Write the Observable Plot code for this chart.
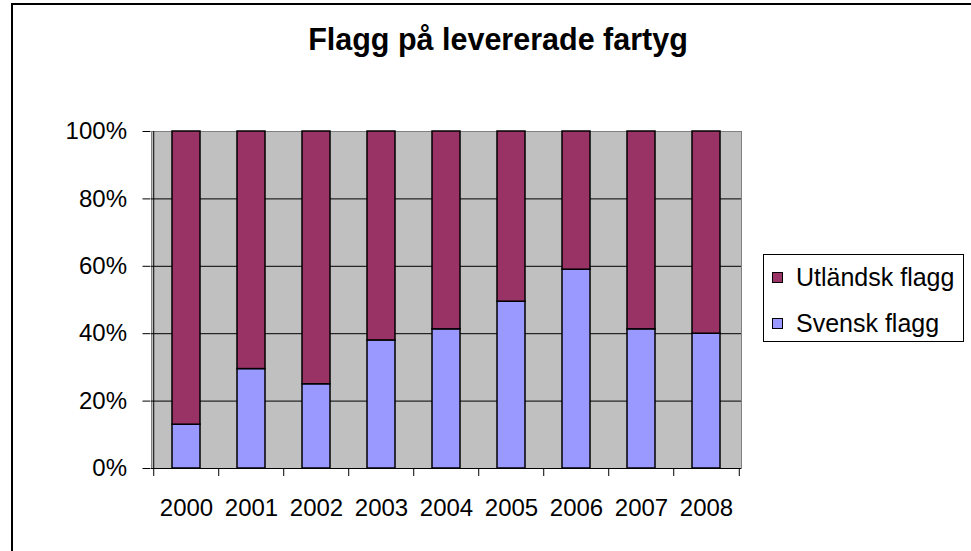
<!DOCTYPE html>
<html>
<head>
<meta charset="utf-8">
<script src="https://cdn.jsdelivr.net/npm/d3@7"></script>
<script src="https://cdn.jsdelivr.net/npm/@observablehq/plot@0.6"></script>
<style>
  html, body { margin: 0; padding: 0; background: #fff; }
  #wrap { position: relative; width: 971px; height: 551px; overflow: hidden; font-family: "Liberation Sans", Arial, sans-serif; }
  #frame { position: absolute; left: 11px; top: 3px; width: 1000px; height: 600px; border-left: 2px solid #000; border-top: 2px solid #000; box-sizing: border-box; }
  #title { position: absolute; left: 0; width: 996px; top: 22px; text-align: center; font-weight: bold; font-size: 30.5px; color: #000; }
  #legend { position: absolute; left: 763px; top: 254px; width: 201px; height: 88px; border: 1px solid #000; box-sizing: border-box; background: #fff; }
  .item { position: absolute; left: 8px; font-size: 25px; line-height: 28px; height: 28px; }
  .sw { position: absolute; left: 0; top: 9px; width: 9px; height: 9px; border: 1px solid #000; }
  .lab { position: absolute; left: 24px; top: 0; white-space: nowrap; }
  #chart { position: absolute; left: 0; top: 0; }
</style>
</head>
<body>
<div id="wrap">
  <div id="frame"></div>
  <div id="title">Flagg på levererade fartyg</div>
  <div id="chart"></div>
  <div id="legend"></div>
</div>
<script>
const years = ["2000", "2001", "2002", "2003", "2004", "2005", "2006", "2007", "2008"];
const svensk = [0.13, 0.295, 0.25, 0.38, 0.413, 0.495, 0.59, 0.413, 0.40];
const utlandsk = [0.87, 0.705, 0.75, 0.62, 0.587, 0.505, 0.41, 0.587, 0.60];
const seriesNames = ["Svensk flagg", "Utländsk flagg"];
const seriesColors = ["#9999FF", "#993366"];
const yTicks = [0, 0.2, 0.4, 0.6, 0.8, 1];
const gridValues = [0.2, 0.4, 0.6, 0.8];

const rows = [];
years.forEach((y, i) => {
  rows.push({year: y, series: seriesNames[0], value: svensk[i]});
  rows.push({year: y, series: seriesNames[1], value: utlandsk[i]});
});

const W = 971, H = 551;
const mL = 151, mR = 230, mT = 131, mB = 83;
const step = (W - mL - mR) / years.length;

const chart = Plot.plot({
  width: W,
  height: H,
  marginLeft: mL,
  marginRight: mR,
  marginTop: mT,
  marginBottom: mB,
  style: {fontFamily: "'Liberation Sans', Arial, sans-serif", fontSize: "24px", color: "#000", background: "transparent"},
  x: {domain: years, paddingInner: 0.57, paddingOuter: 0.285, align: 0.5, axis: null},
  y: {domain: [0, 1], axis: null},
  color: {domain: seriesNames, range: seriesColors},
  marks: [
    Plot.frame({fill: "#C0C0C0", stroke: "#808080"}),
    Plot.ruleY(gridValues, {stroke: "#000", strokeWidth: 1}),
    Plot.barY(rows, Plot.stackY({order: seriesNames, x: "year", y: "value", fill: "series", stroke: "#000", strokeWidth: 1.5})),
    Plot.ruleX([0], {x: () => years[0], dx: -step / 2, stroke: "#000", y1: 0, y2: 1}),
    Plot.ruleY([0], {stroke: "#000"}),
    Plot.ruleX(years, {x: d => d, y1: 0, y2: 0, insetBottom: -8, dx: -step / 2, stroke: "#000"}),
    Plot.ruleX([years[years.length - 1]], {x: d => d, y1: 0, y2: 0, insetBottom: -8, dx: step / 2, stroke: "#000"}),
    Plot.axisY({ticks: yTicks, tickFormat: d => Math.round(d * 100) + "%", tickSize: 8, tickPadding: 16, fontSize: 24, stroke: "#000", dx: -0.5, label: null}),
    Plot.axisX({tickSize: 0, tickPadding: 30, fontSize: 24, label: null})
  ]
});
document.getElementById("chart").appendChild(chart);

const legend = document.getElementById("legend");
const legendOrder = [1, 0];
legendOrder.forEach((k, j) => {
  const item = document.createElement("div");
  item.className = "item";
  item.style.top = (8 + j * 46) + "px";
  const sw = document.createElement("div");
  sw.className = "sw";
  sw.style.background = seriesColors[k];
  const lab = document.createElement("div");
  lab.className = "lab";
  lab.textContent = seriesNames[k];
  item.appendChild(sw);
  item.appendChild(lab);
  legend.appendChild(item);
});
</script>
</body>
</html>
